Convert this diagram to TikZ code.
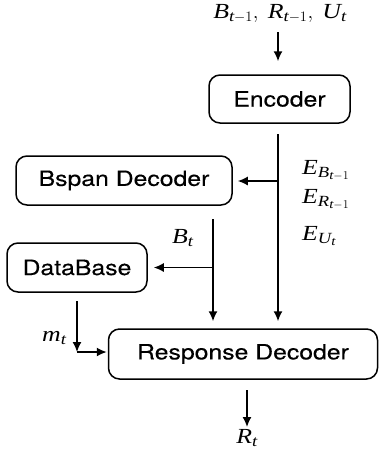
\documentclass[tikz,border=0pt]{standalone}
\usepackage{amsmath}
\usepackage{fontspec}
\setmainfont[FakeStretch=1.2]{Liberation Serif}
\setsansfont[FakeStretch=1.18, FakeBold=0.3]{TeX Gyre Heros}
\usepackage{tikz}
\usetikzlibrary{arrows.meta, calc}

\DeclareMathSizes{21.5}{21.5}{15.5}{12.5}
\newcommand{\iv}[1]{\textit{#1}}

\tikzset{
    block/.style={draw, line width=1.5pt, rounded corners=11pt, inner sep=0pt,
        font=\sffamily\fontsize{21}{25}\selectfont},
    flow/.style={line width=1.6pt, -{Latex[length=10pt,width=9pt]}},
    mlabel/.style={inner sep=0pt, font=\fontsize{21.5}{25}\selectfont}
}

\begin{document}
\begin{tikzpicture}[x=1pt, y=-1pt]
    \useasboundingbox (0,0) rectangle (379,459);
    % boxes
    \node[block, minimum width=141pt, minimum height=48pt] (enc) at (279.5,99) {Encoder};
    \node[block, minimum width=216pt, minimum height=49pt] (bspan) at (124,180.5) {Bspan Decoder};
    \node[block, minimum width=140pt, minimum height=49pt] (db) at (77,267.5) {DataBase};
    \node[block, minimum width=269pt, minimum height=50pt] (resp) at (243,354) {Response Decoder};
    % labels
    \node[mlabel, anchor=base] (inp) at (280,18) {$\iv{B}_{\iv{t}-1},\;\iv{R}_{\iv{t}-1},\;\iv{U}_{\iv{t}}$};
    \node[mlabel, anchor=north, inner sep=2pt] (out) at (247,427) {$\iv{R}_{\iv{t}}$};
    \node[mlabel, anchor=base west] (eb) at (302,174) {$\iv{E}_{\iv{B}_{\iv{t}-1}}$};
    \node[mlabel, anchor=base west] (er) at (302,203) {$\iv{E}_{\iv{R}_{\iv{t}-1}}$};
    \node[mlabel, anchor=base west] (eu) at (302,240) {$\iv{E}_{\iv{U}_{\iv{t}}}$};
    \node[mlabel, anchor=base west] (bt) at (172,243) {$\iv{B}_{\iv{t}}$};
    \node[mlabel, anchor=base west] (mt) at (42,341) {$\iv{m}_{\iv{t}}$};
    % connectors
    \coordinate (in1) at (278,32);
    \coordinate (t1) at (278,134);
    \coordinate (t2) at (278,181);
    \coordinate (b1) at (213,219);
    \coordinate (m1) at (77,301);
    \coordinate (m2) at (77,352);
    \coordinate (o1) at (247,390);
    \draw[flow, shorten >=13pt] (in1) -- (in1 |- enc.north);
    \draw[flow, shorten >=7pt] (t1) -- (t1 |- resp.north);
    \draw[flow, shorten >=5pt] (t2) -- (t2 -| bspan.east);
    \draw[flow, shorten >=7pt] (b1) -- (b1 |- resp.north);
    \draw[flow, shorten >=6pt] (b1 |- db.east) -- (db.east);
    \draw[flow] (m1) -- (m2);
    \draw[flow, shorten >=1pt] (m2) -- (m2 -| resp.west);
    \draw[flow] (o1) -- (out);
\end{tikzpicture}
\end{document}
